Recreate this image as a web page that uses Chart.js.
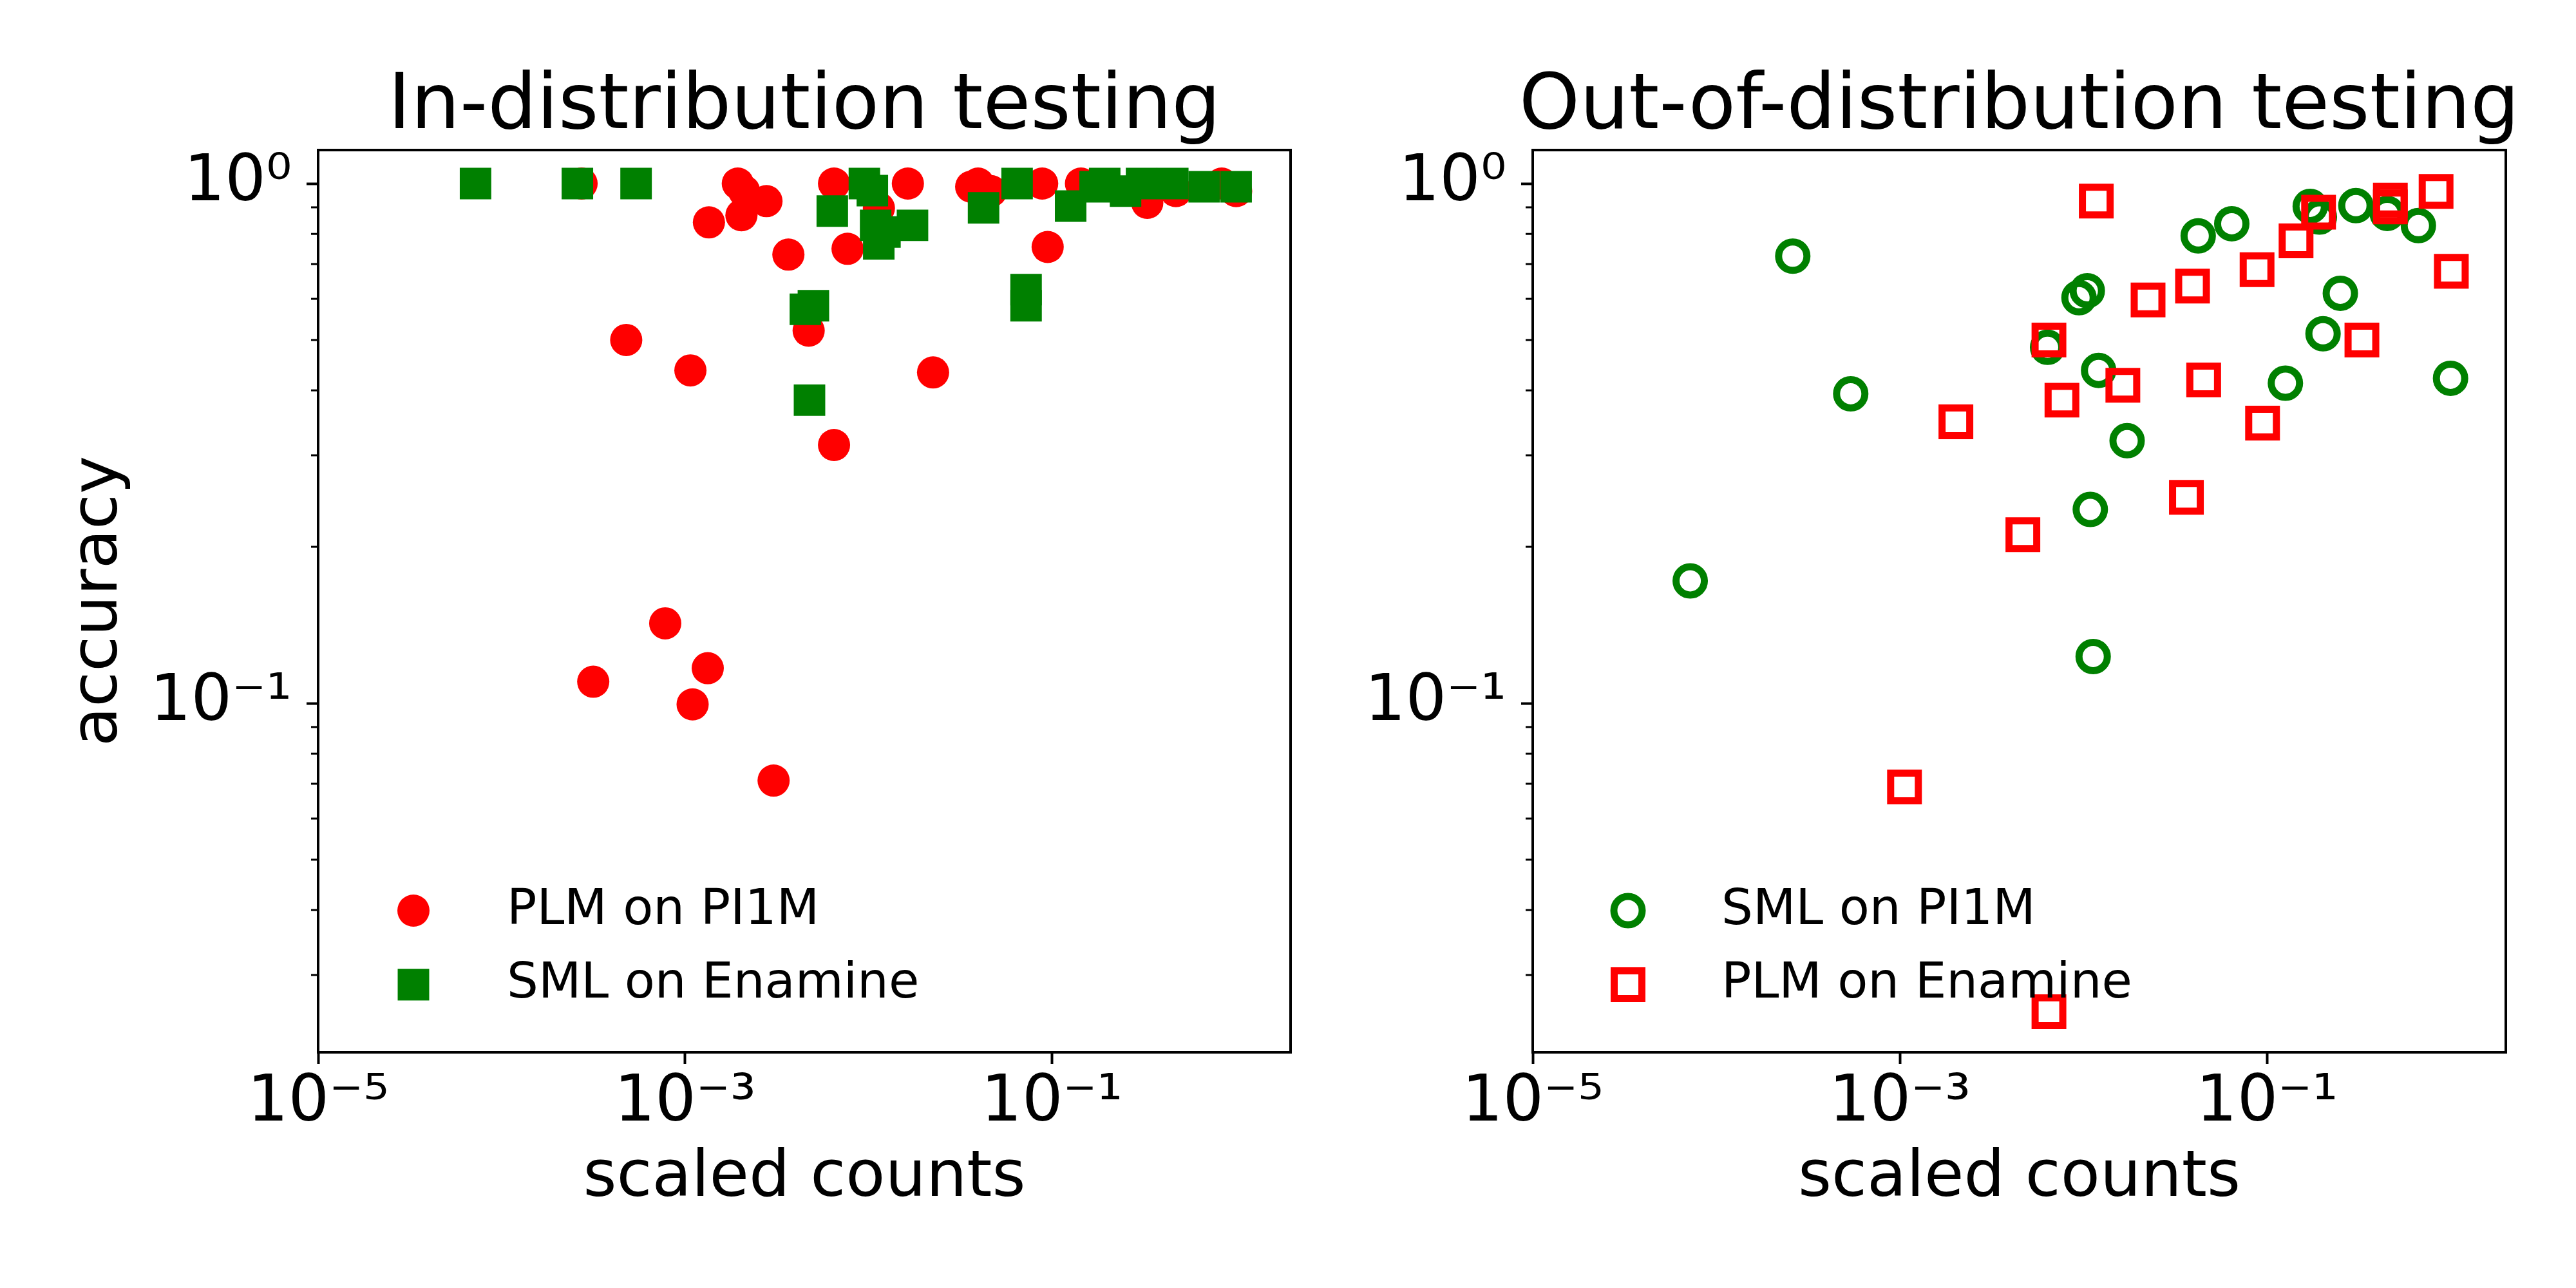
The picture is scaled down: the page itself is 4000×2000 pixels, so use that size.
<!DOCTYPE html>
<html>
<head>
<meta charset="utf-8">
<title>Accuracy vs scaled counts</title>
<script src="https://cdn.jsdelivr.net/npm/chart.js@4.4.1/dist/chart.umd.min.js"></script>
<style>
  html, body { margin: 0; padding: 0; background: #fff; }
  #wrap { position: relative; width: 4000px; height: 2000px; background: #fff; }
  canvas { position: absolute; top: 0; }
  #leftChart { left: 0; width: 2100px; height: 2000px; }
  #rightChart { left: 2100px; width: 1900px; height: 2000px; }
</style>
</head>
<body>
<div id="wrap">
  <canvas id="leftChart" width="2100" height="2000"></canvas>
  <canvas id="rightChart" width="1900" height="2000"></canvas>
</div>
<script>
const FONT = 'DejaVu Sans';
Chart.defaults.font.family = FONT;
Chart.defaults.color = '#000';

// Axis ranges, shared by both panels
const X_MIN = 1e-5, X_MAX = 2;
const Y_MIN = 0.0213, Y_MAX = 1.16;

// Tick values and labels
const xTickValues = [1e-5, 1e-3, 1e-1];
const xTickLabels = ['10\u207B\u2075', '10\u207B\u00B3', '10\u207B\u00B9'];
const yTickValues = [0.1, 1];
const yTickLabels = ['10\u207B\u00B9', '10\u2070'];
const yMinorTicks = [0.03, 0.04, 0.05, 0.06, 0.07, 0.08, 0.09, 0.2, 0.3, 0.4, 0.5, 0.6, 0.7, 0.8, 0.9];

// In-distribution testing: PLM on PI1M
const inPlmX = [2.73e-4, 4.78e-4, 1.07e-3, 1.35e-3, 1.94e-3, 2.10e-3, 2.78e-3, 2.03e-3, 3.66e-3, 4.72e-3,
                6.49e-3, 6.49e-3, 0.0164, 7.69e-3, 0.0114, 0.0396, 0.0363, 0.0466, 0.0885, 0.0948,
                0.144, 0.474, 0.331, 0.843, 1.01, 0.0225, 7.8e-4, 3.16e-4, 1.33e-3, 1.10e-3, 3.04e-3];
const inPlmY = [1.0, 0.50, 0.437, 0.842, 1.0, 0.967, 0.925, 0.869, 0.730, 0.521,
                0.314, 1.0, 1.0, 0.749, 0.897, 1.0, 0.986, 0.967, 1.0, 0.755,
                1.0, 0.967, 0.918, 1.0, 0.967, 0.433, 0.1425, 0.110, 0.1168, 0.0995, 0.071];

// In-distribution testing: SML on Enamine
const inSmlX = [7.21e-5, 2.59e-4, 5.41e-4, 4.53e-3, 5.01e-3, 4.77e-3, 6.35e-3, 9.5e-3, 0.0105, 0.01094,
                0.01138, 0.0123, 0.01738, 0.0424, 0.0646, 0.1265, 0.194, 0.172, 0.252, 0.308,
                0.456, 0.676, 1.01, 0.0723, 0.0723];
const inSmlY = [1.0, 1.0, 1.0, 0.573, 0.582, 0.383, 0.885, 1.0, 0.969, 0.831,
                0.765, 0.807, 0.831, 0.898, 1.0, 0.905, 1.0, 0.986, 0.967, 1.0,
                1.0, 0.986, 0.986, 0.625, 0.582];

// Out-of-distribution testing: SML on PI1M
const outSmlX = [2.61e-4, 5.40e-4, 7.21e-5, 6.38e-3, 9.46e-3, 0.0105, 0.0121, 0.0173, 0.0109, 0.0113,
                 0.0422, 0.0643, 0.172, 0.193, 0.305, 0.452, 0.668, 0.251, 0.202, 0.126, 1.0];
const outSmlY = [0.725, 0.394, 0.172, 0.484, 0.603, 0.622, 0.437, 0.320, 0.236, 0.123,
                 0.793, 0.837, 0.904, 0.862, 0.907, 0.876, 0.830, 0.615, 0.514, 0.413, 0.422];

// Out-of-distribution testing: PLM on Enamine
const outPlmX = [0.01175, 6.49e-3, 7.64e-3, 0.0164, 0.0225, 0.0393, 0.0452, 0.0364, 0.0883, 0.144,
                 0.191, 0.470, 0.470, 0.834, 1.01, 0.329, 0.0946, 4.68e-3, 2.02e-3, 1.06e-3, 6.49e-3];
const outPlmY = [0.925, 0.500, 0.383, 0.409, 0.597, 0.635, 0.419, 0.249, 0.683, 0.776,
                 0.881, 0.929, 0.902, 0.966, 0.678, 0.500, 0.346, 0.211, 0.348, 0.069, 0.0255];

function toPoints(xs, ys) {
    return xs.map((x, i) => ({ x: x, y: ys[i] }));
}

// Draws one legend marker the same way the dataset draws its points
function drawMarker(ctx, ds, x, y) {
    ctx.beginPath();
    if (ds.pointStyle === 'rect') {
        const h = ds.pointRadius * Math.SQRT1_2;
        ctx.rect(x - h, y - h, 2 * h, 2 * h);
    } else {
        ctx.arc(x, y, ds.pointRadius, 0, Math.PI * 2);
    }
    if (ds.pointBorderWidth > 0) {
        ctx.lineWidth = ds.pointBorderWidth;
        ctx.strokeStyle = ds.pointBorderColor;
        ctx.stroke();
    } else {
        ctx.fillStyle = ds.pointBackgroundColor;
        ctx.fill();
    }
}

// Minor y ticks, the box around the axes, the title and the in-axes legend
const panelDecor = {
    id: 'panelDecor',
    beforeDatasetsDraw(chart) {
        const { ctx, chartArea, scales } = chart;
        ctx.save();
        ctx.strokeStyle = '#000';
        ctx.lineWidth = 3;
        yMinorTicks.forEach(v => {
            const py = scales.y.getPixelForValue(v);
            ctx.beginPath();
            ctx.moveTo(chartArea.left - 11, py);
            ctx.lineTo(chartArea.left, py);
            ctx.stroke();
        });
        ctx.restore();
    },
    afterDatasetsDraw(chart) {
        const { ctx, chartArea } = chart;
        ctx.save();
        ctx.strokeStyle = '#000';
        ctx.lineWidth = 4;
        ctx.strokeRect(chartArea.left, chartArea.top,
            chartArea.right - chartArea.left, chartArea.bottom - chartArea.top);
        ctx.restore();
    },
    afterDraw(chart, args, opts) {
        const { ctx, chartArea } = chart;
        ctx.save();
        ctx.fillStyle = '#000';
        ctx.textBaseline = 'alphabetic';

        // title, centred over the axes (no width limit, it is wider than the box on the right)
        ctx.font = '120px "' + FONT + '"';
        ctx.textAlign = 'center';
        ctx.fillText(opts.title, (chartArea.left + chartArea.right) / 2, chartArea.top - 34);

        // legend, lower left inside the axes
        const markerOffsets = [220, 105];
        const textOffsets = [199, 85];
        ctx.font = '77px "' + FONT + '"';
        ctx.textAlign = 'left';
        chart.data.datasets.forEach((ds, i) => {
            drawMarker(ctx, ds, chartArea.left + 148, chartArea.bottom - markerOffsets[i]);
            ctx.fillStyle = '#000';
            ctx.fillText(ds.label, chartArea.left + 293, chartArea.bottom - textOffsets[i]);
        });
        ctx.restore();
    }
};

function makePanel(canvasId, title, datasets, yAxisWidth, rightPad, showYTitle) {
    return new Chart(document.getElementById(canvasId), {
        type: 'scatter',
        data: { datasets: datasets },
        options: {
            responsive: false,
            devicePixelRatio: 1,
            animation: false,
            events: [],
            layout: { padding: { left: 0, top: 233, right: rightPad, bottom: 0 } },
            plugins: {
                legend: { display: false },
                tooltip: { enabled: false },
                title: { display: false },
                panelDecor: { title: title }
            },
            scales: {
                x: {
                    type: 'logarithmic',
                    min: X_MIN,
                    max: X_MAX,
                    afterFit: s => { s.height = 366; },
                    afterBuildTicks: s => { s.ticks = xTickValues.map(v => ({ value: v, major: true })); },
                    border: { display: false },
                    grid: { drawOnChartArea: false, drawTicks: true, tickLength: 18, tickWidth: 4, tickColor: '#000' },
                    ticks: {
                        autoSkip: false,
                        maxRotation: 0,
                        padding: 2,
                        color: '#000',
                        font: { family: FONT, size: 100 },
                        callback: v => xTickLabels[xTickValues.indexOf(v)]
                    },
                    title: {
                        display: true,
                        text: 'scaled counts',
                        color: '#000',
                        font: { family: FONT, size: 100 },
                        padding: { top: 0, bottom: 109 }
                    }
                },
                y: {
                    type: 'logarithmic',
                    min: Y_MIN,
                    max: Y_MAX,
                    afterFit: s => { s.width = yAxisWidth; },
                    afterBuildTicks: s => { s.ticks = yTickValues.map(v => ({ value: v, major: true })); },
                    border: { display: false },
                    grid: { drawOnChartArea: false, drawTicks: true, tickLength: 18, tickWidth: 4, tickColor: '#000' },
                    ticks: {
                        autoSkip: false,
                        padding: 23,
                        color: '#000',
                        font: { family: FONT, size: 100 },
                        callback: v => yTickLabels[yTickValues.indexOf(v)]
                    },
                    title: {
                        display: showYTitle,
                        text: 'accuracy',
                        color: '#000',
                        font: { family: FONT, size: 100 },
                        padding: { top: 95, bottom: 0 }
                    }
                }
            }
        },
        plugins: [panelDecor]
    });
}

// Left panel: red filled circles under green filled squares
makePanel('leftChart', 'In-distribution testing', [
    {
        label: 'PLM on PI1M',
        data: toPoints(inPlmX, inPlmY),
        order: 1,
        pointStyle: 'circle',
        pointRadius: 25,
        pointBorderWidth: 0,
        pointBackgroundColor: '#ff0000',
        pointBorderColor: '#ff0000'
    },
    {
        label: 'SML on Enamine',
        data: toPoints(inSmlX, inSmlY),
        order: 0,
        pointStyle: 'rect',
        pointRadius: 34.6,
        pointBorderWidth: 0,
        pointBackgroundColor: '#008000',
        pointBorderColor: '#008000'
    }
], 494, 96, true);

// Right panel: green open circles under red open squares
makePanel('rightChart', 'Out-of-distribution testing', [
    {
        label: 'SML on PI1M',
        data: toPoints(outSmlX, outSmlY),
        order: 1,
        pointStyle: 'circle',
        pointRadius: 22,
        pointBorderWidth: 11,
        pointBackgroundColor: 'rgba(0,0,0,0)',
        pointBorderColor: '#008000'
    },
    {
        label: 'PLM on Enamine',
        data: toPoints(outPlmX, outPlmY),
        order: 0,
        pointStyle: 'rect',
        pointRadius: 30.4,
        pointBorderWidth: 11,
        pointBackgroundColor: 'rgba(0,0,0,0)',
        pointBorderColor: '#ff0000'
    }
], 280, 109, false);
</script>
</body>
</html>
